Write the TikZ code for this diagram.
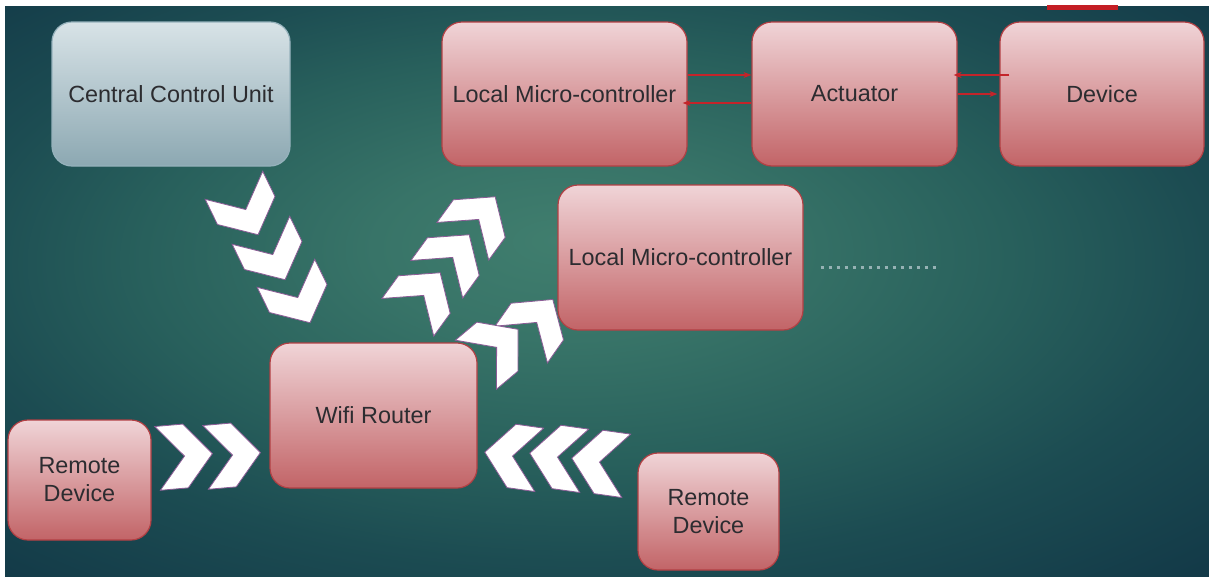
\documentclass[tikz,border=0pt]{standalone}
\usepackage{fontspec}
\setmainfont{Liberation Sans}
\usetikzlibrary{arrows.meta}

% background glow
\definecolor{bgA}{RGB}{64,126,110}
\definecolor{bgB}{RGB}{56,116,104}
\definecolor{bgC}{RGB}{40,96,92}
\definecolor{bgD}{RGB}{28,76,82}
\definecolor{bgE}{RGB}{19,58,72}
\pgfdeclareradialshading{bgglow}{\pgfpoint{-2bp}{4.5bp}}{%
  color(0bp)=(bgA); color(8bp)=(bgB); color(18bp)=(bgC);
  color(26bp)=(bgD); color(36bp)=(bgE); color(50bp)=(bgE)}

% box colours
\definecolor{pinktop}{RGB}{240,212,215}
\definecolor{pinkbot}{RGB}{194,100,103}
\definecolor{pinkedge}{RGB}{178,64,68}
\definecolor{bluetop}{RGB}{216,227,231}
\definecolor{bluebot}{RGB}{140,168,178}
\definecolor{blueedge}{RGB}{150,178,188}
\definecolor{textgray}{RGB}{44,44,48}
\definecolor{chevedge}{RGB}{140,92,150}
\definecolor{linkred}{RGB}{196,36,42}
\definecolor{barred}{RGB}{196,30,36}
\definecolor{dotcol}{RGB}{150,178,180}

% one white chevron: centre x, centre y, pointing angle
\newcommand\chevmark[3]{%
  \draw[chev, shift={(#1,#2)}, rotate=#3]
    (-27.5,-32) -- (0.5,-32) -- (27.5,0) -- (0.5,32) -- (-27.5,32) -- (-0.5,0) -- cycle;}

\begin{document}
\begin{tikzpicture}[x=1pt,y=-1pt,
  box/.style={rounded corners=20pt, line width=1.2pt, text=textgray,
    font=\fontsize{23.4}{28}\selectfont, align=center, inner sep=0pt},
  pinkbox/.style={box, draw=pinkedge, top color=pinktop, bottom color=pinkbot},
  bluebox/.style={box, draw=blueedge, top color=bluetop, bottom color=bluebot},
  chev/.style={fill=white, draw=chevedge, line width=0.8pt, line join=miter},
  link/.style={draw=linkred, line width=1.5pt, -{Stealth[length=8pt,width=6pt]}},
  dotrow/.style={draw=dotcol, line width=3pt, dash pattern=on 3pt off 5pt}]

\useasboundingbox (0,0) rectangle (1209,576);
\fill[white] (0,0) rectangle (1209,576);
\shade[shading=bgglow] (5,6) rectangle (1209,576);

% red tab at the top edge
\fill[barred] (1047,5) rectangle (1118,10);

% boxes
\node[bluebox, minimum width=238pt, minimum height=144pt] (ccu) at (171,94) {Central Control Unit};
\node[pinkbox, minimum width=245pt, minimum height=144pt] (lmcA) at (564.5,94) {Local Micro-controller};
\node[pinkbox, minimum width=205pt, minimum height=144pt] (act) at (854.5,94) {Actuator};
\node[pinkbox, minimum width=204pt, minimum height=144pt] (dev) at (1102,94) {Device};
\node[pinkbox, minimum width=245pt, minimum height=145pt] (lmcB) at (680.5,257.5) {Local Micro-controller};
\node[pinkbox, minimum width=207pt, minimum height=145pt] (wifi) at (373.5,415.5) {Wifi Router};
\node[pinkbox, minimum width=143pt, minimum height=120pt] (rdA) at (79.5,480) {Remote\\Device};
\node[pinkbox, minimum width=141pt, minimum height=117pt] (rdB) at (708.5,511.5) {Remote\\Device};

% links between controller, actuator and device
\draw[link] ([yshift=19pt]lmcA.east) -- ([yshift=19pt]act.west);
\draw[link] ([yshift=-9pt]act.west) -- ([xshift=-5pt,yshift=-9pt]lmcA.east);
\draw[link] ([xshift=10pt,yshift=19pt]dev.west) -- ([xshift=-4pt,yshift=19pt]act.east);
\draw[link] (act.east) -- ([xshift=-2pt]dev.west);

% further controllers
\draw[dotrow] ([xshift=17pt,yshift=-9.5pt]lmcB.east) -- ++(118,0);

% central unit to router
\chevmark{246}{210}{-64}
\chevmark{273}{255}{-64}
\chevmark{298}{298}{-64}
% router to first controller
\chevmark{479}{219}{54}
\chevmark{453}{257}{54}
\chevmark{424}{295}{54}
% router to second controller
\chevmark{537}{322}{55}
\chevmark{497}{347}{40}
% left remote device to router
\chevmark{185}{456}{5}
\chevmark{233}{455}{5}
% right remote device to router
\chevmark{512}{456}{172}
\chevmark{557}{457}{172}
\chevmark{599}{462}{172}
\end{tikzpicture}
\end{document}
